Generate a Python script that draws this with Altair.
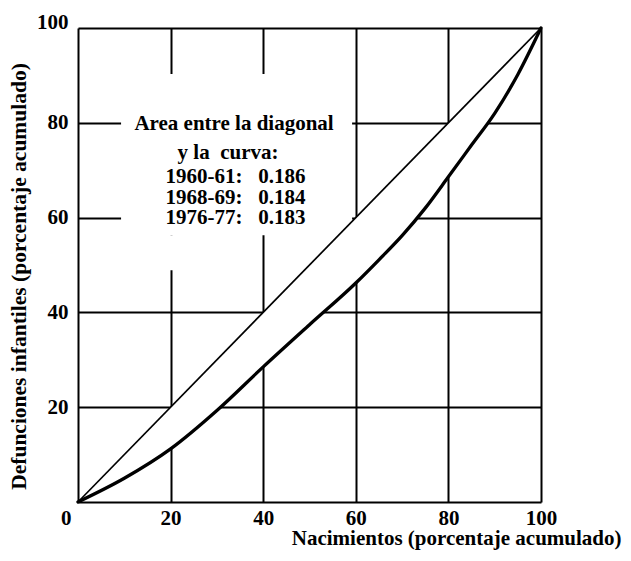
import altair as alt
import pandas as pd

# Curve (Lorenz-type): cumulative % births vs cumulative % infant deaths
curve_x = [0, 10, 20, 30, 40, 50, 60, 65, 70, 75, 80, 85, 90, 95, 100]
curve_y = [0, 5.0, 11.2, 19.3, 28.5, 37.4, 46.2, 51.1, 56.2, 62.0, 68.6, 75.3, 82.0, 90.2, 100]

# Diagonal of equality
diag_x = [0, 100]
diag_y = [0, 100]

tick_values = [0, 20, 40, 60, 80, 100]

NB = "\u00a0"
note_lines = [
    "Area entre la diagonal",
    "y la" + NB + NB + "curva:",
    "1960-61:" + NB + NB + " 0.186",
    "1968-69:" + NB + NB + " 0.184",
    "1976-77:" + NB + NB + " 0.183",
]
note_x = [33.7, 32.4, 34.0, 34.0, 34.0]
note_y = [78.5, 72.4, 67.3, 62.9, 58.6]

# white masks behind the note (in data units)
mask_x = [9.3, 9.3]
mask_x2 = [59.2, 30.0]
mask_y = [90.3, 56.3]
mask_y2 = [56.3, 48.9]

FONT = "Liberation Serif"

curve_df = pd.DataFrame({"x": curve_x, "y": curve_y})
diag_df = pd.DataFrame({"x": diag_x, "y": diag_y})
mask_df = pd.DataFrame({"x": mask_x, "x2": mask_x2, "y": mask_y, "y2": mask_y2})
note_df = pd.DataFrame({"t": note_lines, "x": note_x, "y": note_y})

xscale = alt.Scale(domain=[0, 100], nice=False, zero=False)
yscale = alt.Scale(domain=[0, 100], nice=False, zero=False)

x_axis = alt.Axis(
    values=tick_values,
    title="Nacimientos (porcentaje acumulado)",
    grid=True, gridColor="black", gridWidth=2, gridOpacity=1,
    domain=False, ticks=False, tickSize=0,
    labelFont=FONT, labelFontWeight="bold", labelFontSize=21, labelColor="black",
    labelPadding=5,
    labelAlign={"condition": {"test": "datum.value == 0", "value": "right"}, "value": "center"},
    labelOffset={"condition": {"test": "datum.value == 0", "value": -7}, "value": 0},
    titleFont=FONT, titleFontWeight="bold", titleFontSize=21, titleColor="black",
    titleAnchor="end", titleAlign="right", titleBaseline="alphabetic",
    titleX=543, titleY=42,
)
y_axis = alt.Axis(
    values=tick_values,
    title="Defunciones infantiles (porcentaje acumulado)",
    grid=True, gridColor="black", gridWidth=2, gridOpacity=1,
    domain=False, ticks=False, tickSize=0,
    labelFont=FONT, labelFontWeight="bold", labelFontSize=21, labelColor="black",
    labelPadding=10,
    labelExpr="datum.value == 0 ? '' : datum.label",
    labelBaseline={"condition": {"test": "datum.value == 100", "value": "alphabetic"}, "value": "middle"},
    titleFont=FONT, titleFontWeight="bold", titleFontSize=21.5, titleColor="black",
    titleAngle=270, titleAlign="center", titleBaseline="alphabetic",
    titleX=-53, titleY=248,
)

X = lambda f: alt.X(f, type="quantitative", scale=xscale, axis=x_axis)
Y = lambda f: alt.Y(f, type="quantitative", scale=yscale, axis=y_axis)

masks = alt.Chart(mask_df).mark_rect(color="white").encode(
    x=X("x"), x2="x2", y=Y("y"), y2="y2"
)

lens = alt.Chart(curve_df).transform_calculate(d="datum.x").mark_area(
    color="white", opacity=1, interpolate="monotone"
).encode(x=X("x"), y=Y("y"), y2="d:Q")

diag = alt.Chart(diag_df).mark_line(color="black", strokeWidth=1.7).encode(
    x=X("x"), y=Y("y")
)

curve = alt.Chart(curve_df).mark_line(
    color="black", strokeWidth=3.3, interpolate="monotone", strokeCap="round"
).encode(x=X("x"), y=Y("y"))

note = alt.Chart(note_df).mark_text(
    font=FONT, fontWeight="bold", fontSize=21, color="black",
    align="center", baseline="alphabetic",
).encode(x=X("x"), y=Y("y"), text="t:N")

chart = alt.layer(masks, lens, diag, curve, note).properties(
    width=463, height=474,
    autosize=alt.AutoSizeParams(type="none"),
    padding={"left": 70, "top": 20, "right": 82, "bottom": 51},
    background="white",
).configure_view(strokeWidth=0)

chart.save("out.html", embed_options={"renderer": "svg", "actions": False})
